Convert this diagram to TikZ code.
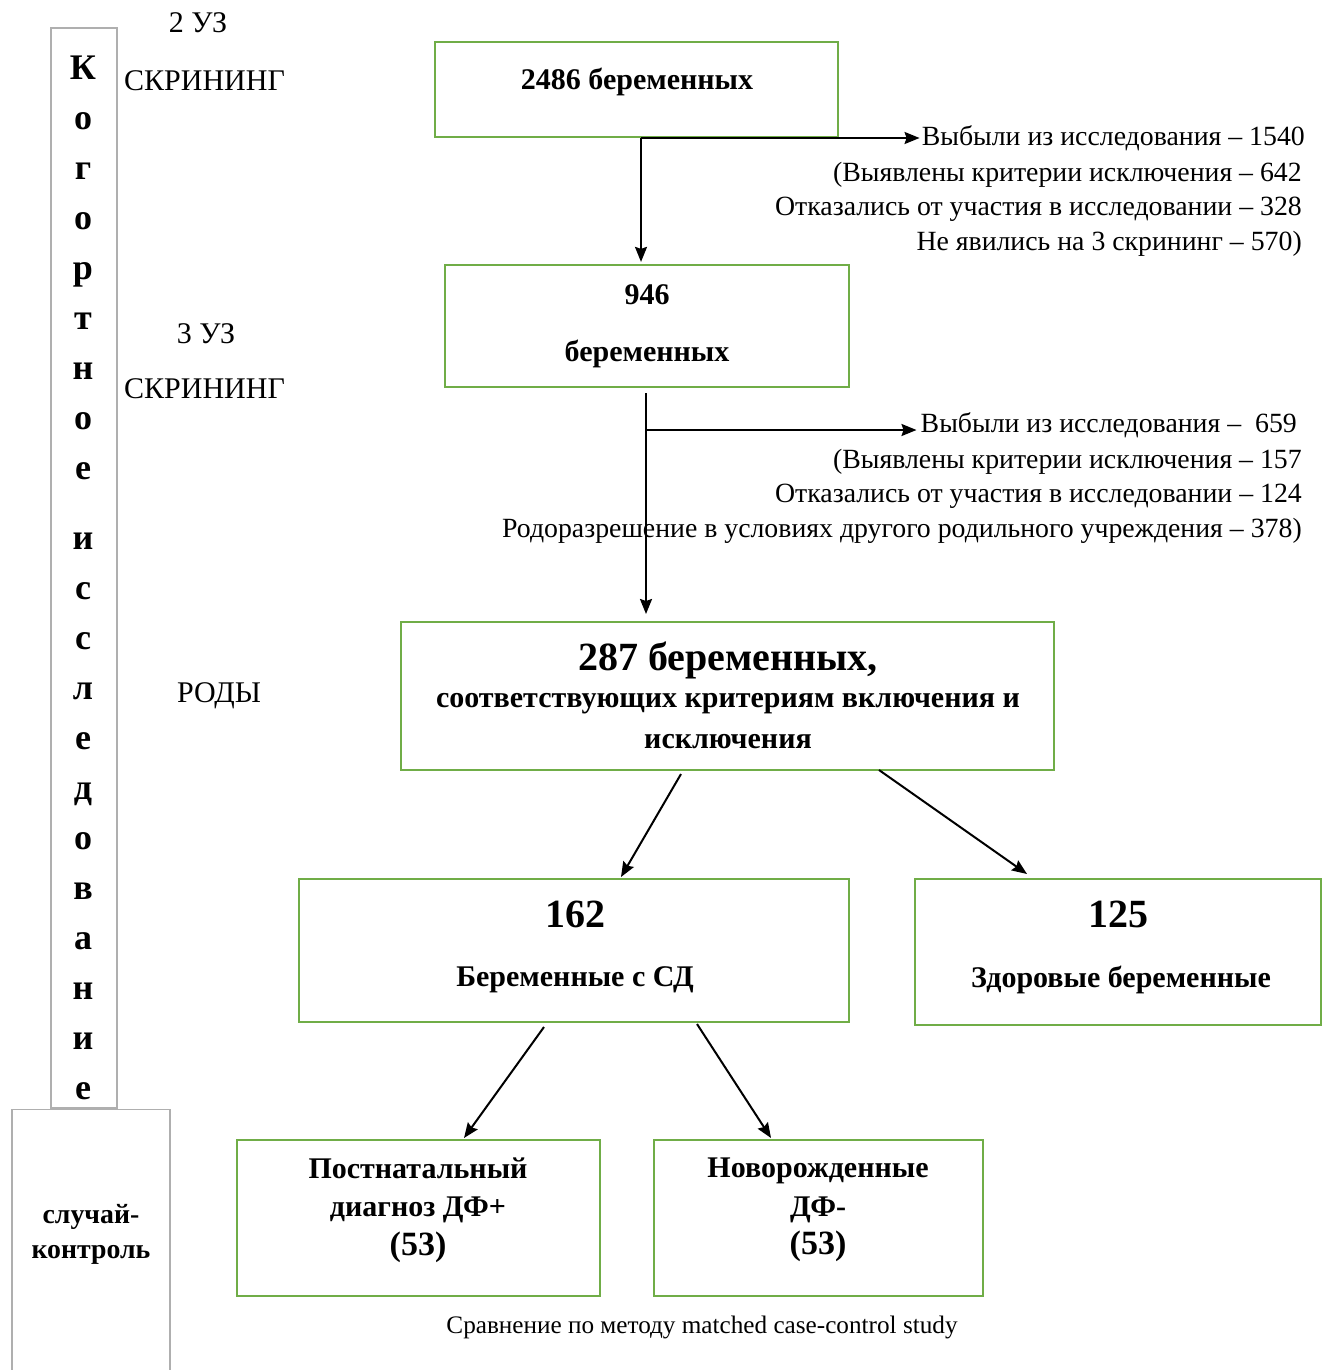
\documentclass[tikz,border=0pt]{standalone}
\usepackage{fontspec}
\setmainfont{Liberation Serif}
\usetikzlibrary{arrows.meta,calc}
\definecolor{boxgreen}{RGB}{112,173,71}
\definecolor{boxgrey}{RGB}{175,175,175}
\begin{document}
\begin{tikzpicture}[x=1pt,y=-1pt,
  gbox/.style={draw=boxgreen,line width=2.2pt,inner sep=0pt},
  greybox/.style={draw=boxgrey,line width=1.6pt,inner sep=0pt},
  arr/.style={line width=2pt,-{Stealth[length=15pt,width=12pt,inset=2pt]}},
  txt/.style={font=\fontsize{27.8}{34.5}\selectfont,inner sep=0pt},
  lbltxt/.style={font=\fontsize{30}{36}\selectfont,inner sep=0pt},
  btxt/.style={font=\fontsize{30}{36}\selectfont\bfseries,inner sep=0pt},
  bigtxt/.style={font=\fontsize{40}{46}\selectfont\bfseries,inner sep=0pt},
  midtxt/.style={font=\fontsize{30}{38.5}\selectfont\bfseries,inner sep=0pt},
  captxt/.style={font=\fontsize{25.2}{30}\selectfont,inner sep=0pt}]
\useasboundingbox (0,0) rectangle (1328,1370);
% left column boxes
\node[greybox,minimum width=66pt,minimum height=1080pt] (colbox) at (84,568) {};
\node[greybox,fill=white,minimum width=158pt,minimum height=275pt] (ccbox) at (91,1247) {};
\node[font=\fontsize{36}{50}\selectfont\bfseries,inner sep=0pt,align=center,anchor=north] (kogort) at (83,55.5)
  {К\\о\\г\\о\\р\\т\\н\\о\\е\\[20pt]и\\с\\с\\л\\е\\д\\о\\в\\а\\н\\и\\е};
\node[font=\fontsize{27.8}{35}\selectfont\bfseries,inner sep=0pt,align=center] (cctext) at (91,1234) {случай-\\контроль};
% stage labels
\node[lbltxt] (uz2) at (198,23) {2 УЗ};
\node[lbltxt,anchor=west] (scr2) at (124,81) {СКРИНИНГ};
\node[lbltxt] (uz3) at (206,334) {3 УЗ};
\node[lbltxt,anchor=west] (scr3) at (124,389) {СКРИНИНГ};
\node[lbltxt] (rody) at (219,696) {РОДЫ};
% main boxes
\node[gbox,minimum width=403pt,minimum height=95pt] (b1) at (636.5,89.5) {};
\node[btxt] (b1t) at (637,82) {2486 беременных};
\node[gbox,minimum width=404pt,minimum height=122pt] (b2) at (647,326) {};
\node[btxt] (b2t1) at (647,295) {946};
\node[btxt] (b2t2) at (647,354) {беременных};
\node[gbox,minimum width=653pt,minimum height=148pt] (b3) at (727.5,696) {};
\node[bigtxt] (b3t1) at (728,660) {287 беременных,};
\node[btxt] (b3t2) at (728,704) {соответствующих критериям включения и};
\node[btxt] (b3t3) at (728,742) {исключения};
\node[gbox,minimum width=550pt,minimum height=143pt] (b4) at (574,950.5) {};
\node[bigtxt] (b4t1) at (575,914) {162};
\node[btxt] (b4t2) at (575,980) {Беременные с СД};
\node[gbox,minimum width=406pt,minimum height=146pt] (b5) at (1118,952) {};
\node[bigtxt] (b5t1) at (1118,914) {125};
\node[btxt] (b5t2) at (1121,980) {Здоровые беременные};
\node[gbox,minimum width=363pt,minimum height=156pt] (b6) at (418.5,1218) {};
\node[midtxt,align=center] (b6t) at (418,1210) {Постнатальный\\диагноз ДФ+\\{\fontsize{34}{38.5}\selectfont(53)}};
\node[gbox,minimum width=329pt,minimum height=156pt] (b7) at (818.5,1218) {};
\node[midtxt,align=center] (b7t) at (818,1210) {Новорожденные\\ДФ-\\{\fontsize{34}{38.5}\selectfont(53)}};
\node[captxt] (cap) at (702,1327) {Сравнение по методу matched case-control study};
% exclusion texts
\node[txt,anchor=east] (ex1) at (1305,138) {Выбыли из исследования – 1540};
\node[txt,anchor=north east,align=right] (ex1d) at (1302,162)
  {(Выявлены критерии исключения – 642\\Отказались от участия в исследовании – 328\\Не явились на 3 скрининг – 570)};
\node[txt,anchor=east] (ex2) at (1297,425) {Выбыли из исследования –\ \ 659};
\node[txt,anchor=north east,align=right] (ex2d) at (1302,449)
  {(Выявлены критерии исключения – 157\\Отказались от участия в исследовании – 124\\Родоразрешение в условиях другого родильного учреждения – 378)};
% connector coordinates
\coordinate (x641) at (641,0);
\coordinate (br1) at (641,138);
\coordinate (br2) at (646,430);
\coordinate (s2) at (646,393);
\coordinate (e2) at (646,614);
\coordinate (d1s) at (681,774);
\coordinate (d1e) at (621,877);
\coordinate (d2s) at (879,770);
\coordinate (d2e) at (1027,874);
\coordinate (d3s) at (544,1027);
\coordinate (d4s) at (697,1024);
\coordinate (d3e) at (464,1138);
\coordinate (d4e) at (771,1138);
% connectors
\draw[arr] (b1.south -| x641) -- ($(b2.north -| x641)+(0,-2)$);
\draw[arr] (br1) -- ($(ex1.west |- br1)+(-2,0)$);
\draw[arr] (s2) -- (e2);
\draw[arr] (br2) -- ($(ex2.west |- br2)+(-4,0)$);
\draw[arr] (d1s) -- (d1e);
\draw[arr] (d2s) -- (d2e);
\draw[arr] (d3s) -- (d3e);
\draw[arr] (d4s) -- (d4e);
\end{tikzpicture}
\end{document}
